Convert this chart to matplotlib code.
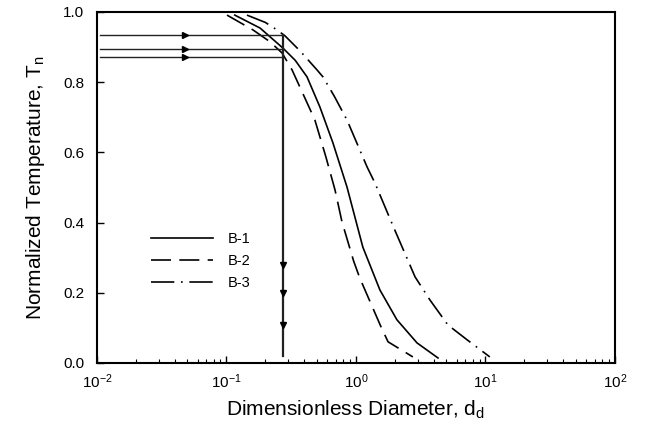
import numpy as np
import matplotlib
matplotlib.use("Agg")
import matplotlib.pyplot as plt

plt.rcParams['font.family'] = ['Liberation Sans', 'DejaVu Sans']

# curves (d_d, T_n)
b1_x = [0.116, 0.182, 0.273, 0.340, 0.419, 0.527, 0.664, 0.853, 1.13, 1.53, 2.07, 2.96, 4.30]
b1_y = [0.991, 0.954, 0.897, 0.862, 0.815, 0.729, 0.627, 0.501, 0.330, 0.208, 0.123, 0.057, 0.014]

b2_x = [0.101, 0.160, 0.217, 0.269, 0.321, 0.434, 0.482, 0.586, 0.689, 0.78, 0.96, 1.07, 1.56, 1.77, 2.75]
b2_y = [0.991, 0.949, 0.915, 0.883, 0.835, 0.729, 0.692, 0.587, 0.493, 0.402, 0.290, 0.242, 0.103, 0.060, 0.017]

b3_x = [0.144, 0.200, 0.245, 0.283, 0.370, 0.500, 0.556, 0.680, 0.853, 1.22, 1.40, 1.96, 2.86, 3.73, 5.13, 7.20, 10.8]
b3_y = [0.991, 0.970, 0.949, 0.932, 0.889, 0.835, 0.815, 0.760, 0.692, 0.558, 0.513, 0.385, 0.245, 0.179, 0.108, 0.066, 0.017]

# read-off lines at d_d = 0.27
dd_read = 0.273
tn_read = [0.934, 0.895, 0.872]
arrow_x = 0.048
arrow_down_y = [0.279, 0.199, 0.108]

fig = plt.figure(figsize=(6.46, 4.42), dpi=100)
ax = fig.add_axes([0.150, 0.179, 0.802, 0.794])

ax.plot(b1_x, b1_y, color='black', lw=1.2, label='B-1')
ax.plot(b2_x, b2_y, color='black', lw=1.2, dashes=(12, 5), label='B-2')
ax.plot(b3_x, b3_y, color='black', lw=1.2, dashes=(14, 4, 1, 4), label='B-3')

for t in tn_read:
    ax.plot([0.0105, dd_read], [t, t], color='#222222', lw=1.0)
    ax.plot([arrow_x], [t], marker='>', color='black', ms=5)
ax.plot([dd_read, dd_read], [tn_read[0], 0.02], color='#222222', lw=1.6)
for yy in arrow_down_y:
    ax.plot([dd_read], [yy], marker='v', color='black', ms=5)

ax.set_xscale('log')
ax.set_xlim(1e-2, 1e2)
ax.set_ylim(0, 1.0)
ax.set_yticks([0.0, 0.2, 0.4, 0.6, 0.8, 1.0])
ax.set_yticklabels(['0.0', '0.2', '0.4', '0.6', '0.8', '1.0'])
ax.tick_params(which='both', direction='in', labelsize=11)
ax.tick_params(which='major', length=5, width=1)
ax.tick_params(which='minor', length=3, width=0.8)
ax.tick_params(axis='x', pad=7)
ax.tick_params(axis='y', pad=9)
for s in ax.spines.values():
    s.set_linewidth(1.5)

ax.set_xlabel('Dimensionless Diameter, d$_\\mathregular{d}$', fontsize=15, labelpad=5)
ax.set_ylabel('Normalized Temperature, T$_\\mathregular{n}$', fontsize=15, labelpad=12)

ax.legend(loc='lower left', bbox_to_anchor=(0.08, 0.17), frameon=False,
          fontsize=10.5, handlelength=4.2, handletextpad=1.0, labelspacing=0.55)

fig.savefig('out.png', dpi=100)
